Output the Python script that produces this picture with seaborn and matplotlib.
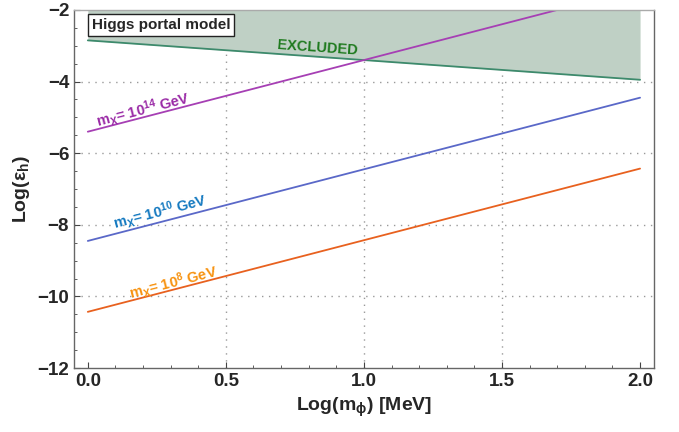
import matplotlib
matplotlib.use("Agg")
import numpy as np
import pandas as pd
import matplotlib.pyplot as plt
import seaborn as sns
from matplotlib.ticker import MultipleLocator

# values
log_mphi = [0.0, 2.0]
line_14 = [-5.40, -1.40]
line_10 = [-8.45, -4.45]
line_8 = [-10.43, -6.43]
excluded_edge = [-2.85, -3.95]

mass_labels = [r"m$_\mathbf{X}$= 10$^\mathbf{14}$ GeV",
               r"m$_\mathbf{X}$= 10$^\mathbf{10}$ GeV",
               r"m$_\mathbf{X}$= 10$^\mathbf{8}$ GeV"]
line_colors = ["#a63fb4", "#5a68c8", "#e8611f"]
text_colors = ["#9a2aa6", "#1479c0", "#f7920f"]
text_pos = [(0.20, -4.78), (0.26, -7.64), (0.31, -9.62)]

sns.set_style("ticks")
plt.rcParams["font.family"] = ["Liberation Sans", "DejaVu Sans"]
plt.rcParams["mathtext.fontset"] = "custom"
plt.rcParams["mathtext.rm"] = "Liberation Sans:bold"
plt.rcParams["mathtext.bf"] = "Liberation Sans:bold"
plt.rcParams["mathtext.it"] = "Liberation Sans:bold"

fig, ax = plt.subplots(figsize=(6.79, 4.32), dpi=100)
fig.subplots_adjust(left=0.109, right=0.963, top=0.977, bottom=0.148)

# excluded region
ax.fill_between(log_mphi, excluded_edge, -2, color="#bfd0c5", lw=0)
sns.lineplot(x=log_mphi, y=excluded_edge, color="#3d8a6c", lw=1.3, ax=ax)

df = pd.DataFrame({"x": log_mphi * 3,
                   "y": line_14 + line_10 + line_8,
                   "m": ["14"] * 2 + ["10"] * 2 + ["8"] * 2})
sns.lineplot(data=df, x="x", y="y", hue="m", palette=line_colors,
             lw=1.3, legend=False, ax=ax)

for lab, c, (tx, ty) in zip(mass_labels, text_colors, text_pos):
    ax.text(tx, ty, lab, color=c, fontsize=10.5, fontweight="bold",
            rotation=14.5, ha="center", va="center", rotation_mode="anchor")

ax.text(0.83, -3.05, "EXCLUDED", color="#1e7a1e", fontsize=10.5,
        fontweight="bold", rotation=-4, ha="center", va="center",
        rotation_mode="anchor")
ax.text(0.265, -2.42, "Higgs portal model", fontsize=11, fontweight="bold",
        ha="center", va="center",
        bbox=dict(boxstyle="square,pad=0.25", fc="white", ec="#222222", lw=1))

ax.set_xlim(-0.05, 2.05)
ax.set_ylim(-12, -2)
ax.xaxis.set_major_locator(MultipleLocator(0.5))
ax.xaxis.set_minor_locator(MultipleLocator(0.1))
ax.yaxis.set_major_locator(MultipleLocator(2))
ax.yaxis.set_minor_locator(MultipleLocator(0.5))
ax.tick_params(which="both", direction="in", color="#444444")
ax.tick_params(which="major", length=4, labelsize=13.5)
ax.tick_params(which="minor", length=2.5)
ax.set_xticks([0.0, 0.5, 1.0, 1.5, 2.0])
ax.set_xticklabels(["0.0", "0.5", "1.0", "1.5", "2.0"], fontweight="bold",
                   family=["Liberation Sans Narrow", "Liberation Sans", "DejaVu Sans"])
ax.set_yticks([-12, -10, -8, -6, -4, -2])
ax.set_yticklabels(["\u221212", "\u221210", "\u22128", "\u22126", "\u22124", "\u22122"],
                   fontweight="bold",
                   family=["Liberation Sans Narrow", "Liberation Sans", "DejaVu Sans"])

for g in [0.5, 1.0, 1.5]:
    ax.axvline(g, color="#999999", ls=(0, (1, 4)), lw=1.0, zorder=0.5)
for g in [-4, -6, -8, -10]:
    ax.axhline(g, color="#999999", ls=(0, (1, 4)), lw=1.0, zorder=0.5)

for s in ax.spines.values():
    s.set_color("#666666")
    s.set_linewidth(1.0)
ax.spines["top"].set_color("#aaaaaa")

ax.set_xlabel(r"Log(m$_\phi$) [MeV]", fontsize=14, fontweight="bold")
ax.set_ylabel(r"Log(ε$_\mathbf{h}$)", fontsize=14, fontweight="bold")

fig.savefig("out.png", dpi=100)
